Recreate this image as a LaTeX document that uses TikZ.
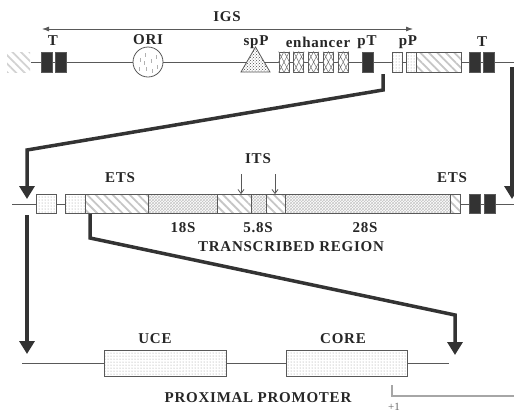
\documentclass[tikz,border=0pt]{standalone}
\usepackage{fontspec}
\setmainfont{Liberation Serif}
\usetikzlibrary{arrows.meta,patterns,patterns.meta,calc}
\begin{document}
\begin{tikzpicture}[x=1pt,y=-1pt,
    lbl/.style={font=\bfseries\fontsize{15}{17}\selectfont\addfontfeatures{LetterSpace=5},text=black!85,inner sep=0pt},
    seg/.style={draw=black!65,line width=0.8pt,inner sep=0pt,minimum height=#1,preaction={fill=white}},
    seg/.default=20pt,
    blk/.style={seg,fill=black!80,minimum width=11pt},
    dotbox/.style={seg=#1,pattern=dots,pattern color=gray!85},
    dotbox/.default=20pt,
    hatch/.style={seg=#1,pattern={Lines[angle=-45,distance=6pt,line width=1.8pt]},pattern color=gray!45},
    hatch/.default=20pt,
    rrna/.style={seg=19pt,pattern=crosshatch,pattern color=gray!45},
    zoomarr/.style={draw=black!80,line width=3.5pt,-{Triangle[length=13pt,width=15pt]}},
    thin/.style={draw=black!65,line width=0.8pt}]
\useasboundingbox (0,0) rectangle (514,413);

% IGS unit
\node(hl)[inner sep=0pt,minimum width=23pt,minimum height=20pt,pattern={Lines[angle=-45,distance=6pt,line width=1.8pt]},pattern color=gray!35] at (18.5,62){};
\coordinate(re) at (514,62);
\draw[thin] (hl.east) -- (re);
\node(t1)[blk] at (46.5,62){};
\node(t2)[blk] at (60.5,62){};
\node(ori)[circle,draw=black!65,line width=0.8pt,fill=white,inner sep=0pt,minimum size=30pt] at (148,62){};
\foreach \dx/\dy in {-8/-4,-3/-9,3/-3,8/-7,-9/5,-2/5,4/7,9/3,-4/-1}
    \draw[gray!60,line width=0.6pt] ($(ori.center)+(\dx,\dy)$) -- ++(0,4);
\draw[thin,preaction={fill=white},pattern=crosshatch dots,pattern color=black!70] (241,72) -- (255.5,47) -- (270,72) -- cycle;
\foreach \i in {1,...,5} {
    \node(e\i)[seg,minimum width=10pt] at (269.2+14.8*\i,62){};
    \draw[black!55,line width=0.5pt] (e\i.north west) -- (e\i.south east) (e\i.north east) -- (e\i.south west)
        (e\i.north) -- (e\i.east) -- (e\i.south) -- (e\i.west) -- cycle;
}
\node(pt)[blk] at (367.5,62){};
\node(pp)[dotbox,minimum width=10pt] at (397,62){};
\node(tsa)[dotbox,minimum width=10pt] at (411,62){};
\node(tsb)[hatch,minimum width=45pt] at (438.5,62){};
\node(t3)[blk] at (474.5,62){};
\node(t4)[blk] at (489,62){};

\coordinate(igsl) at (42,29);
\coordinate(igsr) at (413,29);
\draw[thin,{Latex[length=7pt,width=5pt]}-{Latex[length=7pt,width=5pt]}] (igsl) -- (igsr);
\node(igs)[lbl] at (227,17){IGS};
\node[lbl] at (53,41){T};
\node[lbl] at (148,40){ORI};
\node[lbl] at (256,42){spP};
\node[lbl] at (318,42){enhancer};
\node[lbl] at (367,42){pT};
\node[lbl] at (408,42){pP};
\node[lbl] at (482,42){T};

% transcribed region
\coordinate(ml) at (12,204);
\coordinate(mr) at (514,204);
\draw[thin] (ml) -- (mr);
\node(a1)[dotbox=19pt,minimum width=20pt] at (46,204){};
\node(a2)[dotbox=19pt,minimum width=20pt] at (75,204){};
\node(ets1)[hatch=19pt,minimum width=63pt] at (116.5,204){};
\node(s18)[rrna,minimum width=69pt] at (182.5,204){};
\node(its1)[hatch=19pt,minimum width=34pt] at (234,204){};
\node(s58)[rrna,minimum width=15pt] at (258.5,204){};
\node(its2)[hatch=19pt,minimum width=19pt] at (275.5,204){};
\node(s28)[rrna,minimum width=165pt] at (367.5,204){};
\node(ets2)[hatch=19pt,minimum width=10pt] at (455,204){};
\node(t5)[blk,minimum height=19pt] at (474.5,204){};
\node(t6)[blk,minimum height=19pt] at (489.5,204){};

\node[lbl] at (120,178){ETS};
\node[lbl] at (452,178){ETS};
\node(its)[lbl] at (258,159){ITS};
\coordinate(i1) at (241,174);
\coordinate(i2) at (275,174);
\draw[thin,-{Straight Barb[length=4pt,width=6pt]}] (i1) -- (its1.north -| i1);
\draw[thin,-{Straight Barb[length=4pt,width=6pt]}] (i2) -- (its2.north -| i2);
\node[lbl] at (183,228){18S};
\node[lbl] at (258,228){5.8S};
\node[lbl] at (365,228){28S};
\node[lbl] at (291,247){TRANSCRIBED REGION};

% proximal promoter
\coordinate(bl) at (22,363);
\coordinate(br) at (449,363);
\draw[thin] (bl) -- (br);
\node(uce)[dotbox=26pt,minimum width=122pt] at (165,363){};
\node(core)[dotbox=26pt,minimum width=121pt] at (346.5,363){};
\node[lbl] at (155,339){UCE};
\node[lbl] at (343,339){CORE};
\node[lbl] at (258,398){PROXIMAL PROMOTER};

% zoom connectors
\coordinate(z1) at (383,74);
\coordinate(z1e) at (27,199);
\draw[zoomarr] (z1) -- (383,90) -- (27,150) -- (z1e);
\coordinate(z2) at (512,67);
\coordinate(z2e) at (512,199);
\draw[zoomarr] (z2) -- (z2e);
\coordinate(z3) at (90,214);
\coordinate(z3e) at (455,355);
\draw[zoomarr] (z3) -- (90,238) -- (455,315) -- (z3e);
\coordinate(z4) at (27,215);
\coordinate(z4e) at (27,354);
\draw[zoomarr] (z4) -- (z4e);

% transcription start
\coordinate(ts) at (392,385);
\coordinate(tse) at (514,396);
\draw[gray!70,line width=1.8pt] (ts) -- (ts |- tse) -- (tse);
\node(p1)[font=\fontsize{11}{12}\selectfont,text=gray!80!black,inner sep=0pt] at (394,407){+1};
\end{tikzpicture}
\end{document}
